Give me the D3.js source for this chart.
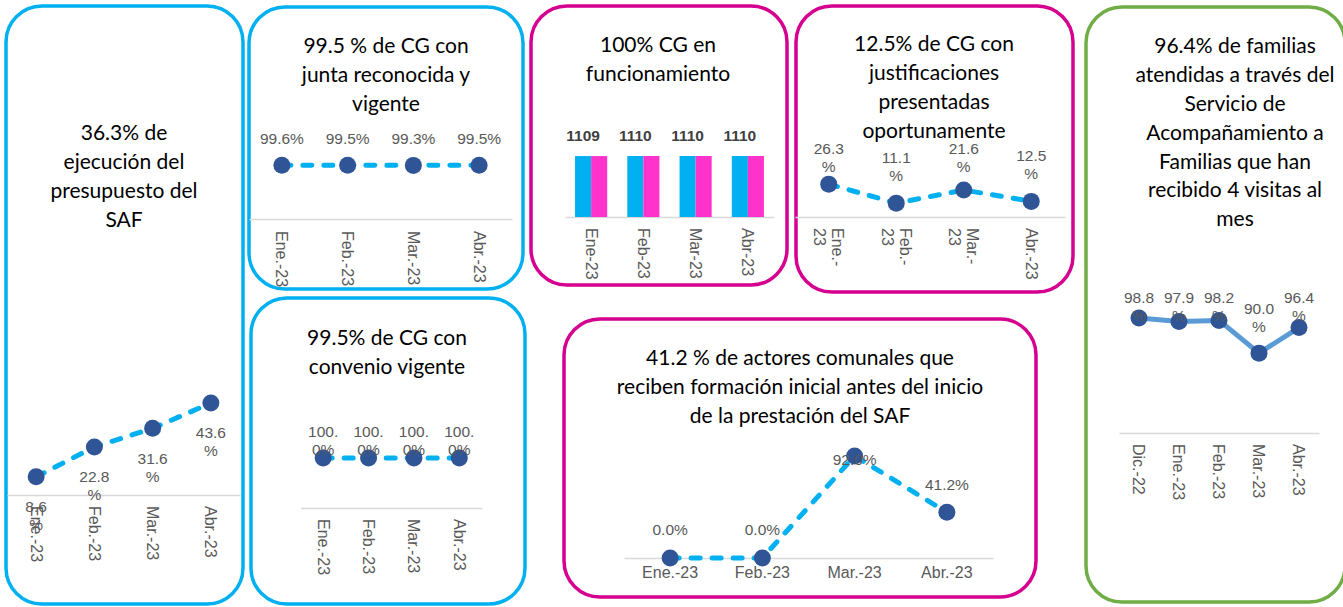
<!DOCTYPE html>
<html>
<head>
<meta charset="utf-8">
<script src="https://cdn.jsdelivr.net/npm/d3@7"></script>
<style>
  body { margin: 0; background: #fff; }
  .titulo { font-family: Lato, 'Noto Sans', sans-serif; font-size: 21px; fill: #000; }
  .etiqueta { font-family: 'Liberation Sans', Arial, sans-serif; font-size: 15.5px; fill: #595959; }
  .etiqueta.bold { font-weight: bold; fill: #404040; }
  .eje text { font-family: 'Liberation Sans', Arial, sans-serif; font-size: 16px; fill: #595959; }
  .eje path { stroke: #d9d9d9; stroke-width: 1.5; }
</style>
</head>
<body>
<svg id="chart"></svg>
<script>
// categorias
const mesesEneAbr = ['Ene.-23', 'Feb.-23', 'Mar.-23', 'Abr.-23'];
const mesesBarras = ['Ene-23', 'Feb-23', 'Mar-23', 'Abr-23'];
const mesesDicAbr = ['Dic.-22', 'Ene.-23', 'Feb.-23', 'Mar.-23', 'Abr.-23'];

// series
const ejecucionPresupuesto = [8.6, 22.8, 31.6, 43.6];
const juntaVigente = [99.6, 99.5, 99.3, 99.5];
const cgTotal = [1109, 1110, 1110, 1110];
const cgFuncionando = [1109, 1110, 1110, 1110];
const justificaciones = [26.3, 11.1, 21.6, 12.5];
const familiasVisitas = [98.8, 97.9, 98.2, 90.0, 96.4];
const convenioVigente = [100.0, 100.0, 100.0, 100.0];
const formacionInicial = [0.0, 0.0, 92.0, 41.2];

// titulos
const tituloPresupuesto = ['36.3% de', 'ejecución del', 'presupuesto del', 'SAF'];
const tituloJunta = ['99.5 % de CG con', 'junta reconocida y', 'vigente'];
const tituloFuncionamiento = ['100% CG en', 'funcionamiento'];
const tituloJustificaciones = ['12.5% de CG con', 'justificaciones', 'presentadas', 'oportunamente'];
const tituloFamilias = ['96.4% de familias', 'atendidas a través del', 'Servicio de',
  'Acompañamiento a', 'Familias que han', 'recibido 4 visitas al', 'mes'];
const tituloConvenio = ['99.5% de CG con', 'convenio vigente'];
const tituloFormacion = ['41.2 % de actores comunales que', 'reciben formación inicial antes del inicio',
  'de la prestación del SAF'];

const AZUL = '#00b0f0', MAGENTA = '#d5008f', VERDE = '#70ad47', MARCADOR = '#2f5597';

let svg = d3.select('#chart')
  .attr('width', 1343)
  .attr('height', 607);

let pct = v => d3.format('.1f')(v) + '%';

function panel(x, y, w, h, color, titulo, tx, ty) {
  svg.append('rect')
    .attr('x', x).attr('y', y)
    .attr('width', w).attr('height', h)
    .attr('rx', 36)
    .attr('fill', 'none')
    .attr('stroke', color)
    .attr('stroke-width', 3.5);

  svg.append('text')
    .attr('class', 'titulo')
    .attr('text-anchor', 'middle')
    .selectAll('tspan')
    .data(titulo)
    .join('tspan')
    .attr('x', tx)
    .attr('y', (d, i) => ty + i * 28.8)
    .attr('dy', '0.35em')
    .text(d => d);
}

function ejeX(g, x, y0, cfg) {
  let pad = cfg.tickPad || 11;
  let eje = g.append('g')
    .attr('class', 'eje')
    .attr('transform', 'translate(0,' + y0 + ')')
    .call(d3.axisBottom(x).tickSize(0).tickPadding(pad));

  if (cfg.rotar) {
    eje.selectAll('.tick text')
      .attr('y', 0)
      .attr('x', pad)
      .attr('dy', '0.35em')
      .attr('transform', 'rotate(90)')
      .style('text-anchor', 'start');
  }

  // partir etiquetas largas despues del guion
  if (cfg.tickMax) {
    eje.selectAll('.tick text').each(function (d) {
      let t = d3.select(this);
      if (this.getComputedTextLength() <= cfg.tickMax) return;
      let k = d.indexOf('-') + 1;
      t.text(null);
      t.append('tspan').attr('x', pad).attr('dy', '-0.22em').text(d.slice(0, k));
      t.append('tspan').attr('x', pad).attr('dy', '1.12em').text(d.slice(k));
    });
  }
  return eje;
}

// etiqueta de dos lineas: corta antes del % o, si el numero es largo, a los 4 caracteres
function partir(s) {
  return s.length > 5 ? [s.slice(0, 4), s.slice(4)] : [s.slice(0, -1), '%'];
}

function lineChart(cfg) {
  let x = d3.scaleBand().domain(cfg.cats).range(cfg.xRange);
  let y = d3.scaleLinear().domain(cfg.yDomain).range(cfg.yRange);
  let cx = i => x(cfg.cats[i]) + x.bandwidth() / 2;
  let g = svg.append('g');

  ejeX(g, x, y(cfg.yDomain[0]), cfg);

  g.append('path')
    .datum(cfg.values)
    .attr('d', d3.line().x((d, i) => cx(i)).y(d => y(d)))
    .attr('fill', 'none')
    .attr('stroke', cfg.lineColor || AZUL)
    .attr('stroke-width', 5)
    .attr('stroke-linecap', 'round')
    .attr('stroke-linejoin', 'round')
    .attr('stroke-dasharray', cfg.dash === false ? null : '9,12');

  g.selectAll('circle')
    .data(cfg.values)
    .join('circle')
    .attr('cx', (d, i) => cx(i))
    .attr('cy', d => y(d))
    .attr('r', 8.5)
    .attr('fill', MARCADOR);

  g.selectAll('.etiqueta')
    .data(cfg.values)
    .join('text')
    .attr('class', 'etiqueta')
    .attr('text-anchor', 'middle')
    .each(function (d, i) {
      let s = pct(d);
      let lines = cfg.wrap ? partir(s) : [s];
      let y0 = y(d) + cfg.labelDy;
      if (cfg.labelTope != null) y0 = Math.max(y0, cfg.labelTope);
      d3.select(this).selectAll('tspan')
        .data(lines)
        .join('tspan')
        .attr('x', cx(i))
        .attr('y', (l, j) => y0 + j * 18)
        .attr('dy', '0.35em')
        .text(l => l);
    });
}

// 1. ejecucion del presupuesto
panel(6, 6, 237, 598, AZUL, tituloPresupuesto, 124, 133);
lineChart({
  cats: mesesEneAbr, values: ejecucionPresupuesto,
  xRange: [7, 240], yDomain: [0, 50], yRange: [495, 389.5],
  labelDy: 30, wrap: true, rotar: true
});

// 2. junta reconocida
panel(249, 7, 274, 282, AZUL, tituloJunta, 386, 46);
lineChart({
  cats: mesesEneAbr, values: juntaVigente,
  xRange: [249, 512], yDomain: [0, 100], yRange: [219, 165],
  labelDy: -27, rotar: true, tickPad: 12
});

// 3. CG en funcionamiento (barras)
panel(531, 6, 256, 279, MAGENTA, tituloFuncionamiento, 658, 45);
(function () {
  let x0 = d3.scaleBand().domain(mesesBarras).range([565, 774])
    .paddingInner(0.385).paddingOuter(0.1925);
  let x1 = d3.scaleBand().domain(['total', 'func']).range([0, x0.bandwidth()]);
  let y = d3.scaleLinear().domain([0, 1110]).range([217, 156]);
  let g = svg.append('g');

  ejeX(g, x0, y(0), {rotar: true});

  let series = [
    {key: 'total', values: cgTotal, color: AZUL},
    {key: 'func', values: cgFuncionando, color: '#ff33cc'}
  ];
  series.forEach(s => {
    g.append('g')
      .selectAll('rect')
      .data(s.values)
      .join('rect')
      .attr('x', (d, i) => x0(mesesBarras[i]) + x1(s.key))
      .attr('width', x1.bandwidth())
      .attr('y', d => y(d))
      .attr('height', d => y(0) - y(d))
      .attr('fill', s.color);
  });

  g.selectAll('.etiqueta')
    .data(cgTotal)
    .join('text')
    .attr('class', 'etiqueta bold')
    .attr('text-anchor', 'middle')
    .attr('x', (d, i) => x0(mesesBarras[i]) + x1('total') + x1.bandwidth() / 2)
    .attr('y', d => y(d) - 20)
    .attr('dy', '0.35em')
    .text(d => d);
})();

// 4. justificaciones oportunas
panel(796, 6, 277, 286, MAGENTA, tituloJustificaciones, 934, 44);
lineChart({
  cats: mesesEneAbr, values: justificaciones,
  xRange: [795, 1065], yDomain: [0, 30], yRange: [217, 179.5],
  labelDy: -46, labelTope: 149, wrap: true, rotar: true, tickMax: 54
});

// 5. familias con 4 visitas
panel(1086, 7, 259, 595, VERDE, tituloFamilias, 1235, 46);
lineChart({
  cats: mesesDicAbr, values: familiasVisitas,
  xRange: [1119, 1319], yDomain: [70, 100], yRange: [433, 313.2],
  labelDy: -45, labelTope: 298, wrap: true, rotar: true, dash: false, lineColor: '#5b9bd5'
});

// 6. convenio vigente
panel(251, 298, 274, 306, AZUL, tituloConvenio, 387, 338);
lineChart({
  cats: mesesEneAbr, values: convenioVigente,
  xRange: [300.5, 482], yDomain: [0, 100], yRange: [508, 458],
  labelDy: -26, wrap: true, rotar: true
});

// 7. formacion inicial de actores comunales
panel(564, 319, 472, 278, MAGENTA, tituloFormacion, 800, 358);
lineChart({
  cats: mesesEneAbr, values: formacionInicial,
  xRange: [624, 993], yDomain: [0, 100], yRange: [558, 447.1],
  labelDy: -28, labelTope: 460, tickPad: 9
});
</script>
</body>
</html>
